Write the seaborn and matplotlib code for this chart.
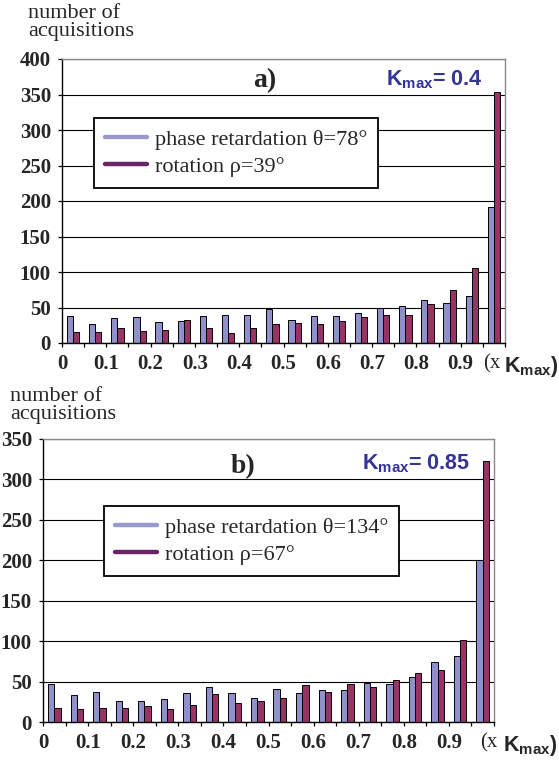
import matplotlib
matplotlib.use("Agg")
import matplotlib.pyplot as plt
import seaborn as sns
import pandas as pd
from matplotlib.lines import Line2D
from matplotlib.font_manager import FontProperties

# ---------------- data ----------------
bins = ["0.00", "0.05", "0.10", "0.15", "0.20", "0.25", "0.30", "0.35", "0.40", "0.45",
        "0.50", "0.55", "0.60", "0.65", "0.70", "0.75", "0.80", "0.85", "0.90", "0.95"]
xtick_labels = ["0", "0.1", "0.2", "0.3", "0.4", "0.5", "0.6", "0.7", "0.8", "0.9"]

a_theta = [38.5, 27, 35, 36.5, 29, 30.5, 38.5, 40, 40, 48,
           32, 38.5, 38.5, 42, 50, 51.5, 61, 56, 66, 192]
a_rho = [16, 16, 21, 17, 19, 32, 21, 14.5, 21, 27,
         28.5, 27, 30.5, 36.5, 40, 40, 55, 74.5, 105.5, 353.5]
b_theta = [47, 33, 37, 26, 26, 28.5, 36, 43, 36, 30,
           41, 36, 39.5, 39.5, 48, 47, 55.5, 74, 81.5, 200]
b_rho = [17, 16, 17, 17, 20, 16, 21, 34.5, 23.5, 26,
         30, 46, 37, 47, 43, 52, 60.5, 64, 101, 323]

a_labels = ["phase retardation θ=78°", "rotation ρ=39°"]
b_labels = ["phase retardation θ=134°", "rotation ρ=67°"]
a_kmax = "K$_\\mathregular{max}$= 0.4"
b_kmax = "K$_\\mathregular{max}$= 0.85"

# ---------------- style ----------------
sns.set_style("white")
plt.rcParams["font.family"] = ["Liberation Serif", "DejaVu Serif"]

BLUE = "#9090cc"
RED = "#993366"
LEG_BLUE = "#9999cc"
LEG_RED = "#6b2466"
KCOL = "#333399"

fig = plt.figure(figsize=(5.59, 7.61), dpi=100)
W, H = 559, 761


def axes_px(left, right, top, bottom):
    return fig.add_axes([left / W, 1 - bottom / H, (right - left) / W, (bottom - top) / H])


def panel(ax, theta, rho, ymax, labels, letter, kmax, leg_xy, letter_xy, k_xy, xk):
    df = pd.DataFrame({
        "bin": bins * 2,
        "count": theta + rho,
        "series": [labels[0]] * len(bins) + [labels[1]] * len(bins),
    })
    sns.barplot(data=df, x="bin", y="count", hue="series", order=bins,
                hue_order=labels, palette=[BLUE, RED], width=0.56,
                saturation=1, edgecolor="black", linewidth=0.7,
                legend=False, ax=ax)
    ax.set_xlim(-0.5, 19.5)
    ax.set_ylim(0, ymax)
    ax.set_yticks(range(0, ymax + 1, 50))
    ax.set_xlabel("")
    ax.set_ylabel("")

    edges = [i - 0.5 for i in range(21)]
    ax.set_xticks(edges)
    lbls = []
    for i in range(21):
        lbls.append(xtick_labels[i // 2] if (i % 2 == 0 and i // 2 < len(xtick_labels)) else "")
    ax.set_xticklabels(lbls)

    ax.yaxis.grid(True, color="black", linewidth=0.8)
    ax.xaxis.grid(False)
    ax.set_axisbelow(True)

    for s in ["left", "bottom"]:
        ax.spines[s].set_color("black")
        ax.spines[s].set_linewidth(1.0)
    for s in ["top", "right"]:
        ax.spines[s].set_color("#888888")
        ax.spines[s].set_linewidth(1.0)

    ax.tick_params(axis="both", which="both", direction="out", length=3,
                   width=0.9, color="black", bottom=True, left=True)
    ax.tick_params(axis="y", pad=5)
    ax.tick_params(axis="x", pad=5)
    for t in ax.get_xticklabels() + ax.get_yticklabels():
        t.set_fontfamily("Liberation Serif")
        t.set_fontweight("bold")
        t.set_fontsize(15)

    handles = [Line2D([], [], color=LEG_BLUE, lw=3.2),
               Line2D([], [], color=LEG_RED, lw=3.2)]
    leg = ax.legend(handles, labels, loc="upper left", bbox_to_anchor=leg_xy,
                    borderaxespad=0, frameon=True, fancybox=False,
                    edgecolor="black", framealpha=1,
                    prop=FontProperties(family="Liberation Serif", size=16),
                    handlelength=1.9, handletextpad=0.35, labelspacing=0.3,
                    borderpad=0.5)
    leg.get_frame().set_linewidth(1.3)

    ax.text(letter_xy[0], letter_xy[1], letter, transform=ax.transAxes,
            ha="center", va="baseline", fontsize=20, fontweight="bold",
            family="Liberation Serif")
    ax.text(k_xy[0], k_xy[1], kmax, transform=ax.transAxes, ha="left",
            va="baseline", fontsize=15.5, fontweight="bold",
            family="Liberation Sans", color=KCOL)

    # x-axis unit label
    ax.annotate("(x", xy=(xk[0], 0), xycoords=("data", "axes fraction"),
                xytext=(0, -8), textcoords="offset points", ha="left", va="top",
                fontsize=15, family="Liberation Serif", annotation_clip=False)
    ax.annotate("K$_\\mathregular{max}$)", xy=(xk[1], 0),
                xycoords=("data", "axes fraction"),
                xytext=(0, -8), textcoords="offset points", ha="left", va="top",
                fontsize=15.5, fontweight="bold", family="Liberation Sans",
                annotation_clip=False)


ax1 = axes_px(62, 505, 59, 343)
panel(ax1, a_theta, a_rho, 400, a_labels, "a)", a_kmax,
      leg_xy=(0.072, 0.792), letter_xy=(0.458, 0.901), k_xy=(0.731, 0.908),
      xk=(18.5, 19.45))

ax2 = axes_px(43, 494, 439, 722)
panel(ax2, b_theta, b_rho, 350, b_labels, "b)", b_kmax,
      leg_xy=(0.135, 0.763), letter_xy=(0.443, 0.88), k_xy=(0.707, 0.894),
      xk=(18.88, 19.9))

fig.text(28 / W, 1 - 4 / H, "number of\nacquisitions", ha="left", va="top",
         fontsize=16, family="Liberation Serif", linespacing=0.95)
fig.text(10 / W, 1 - 387 / H, "number of\nacquisitions", ha="left", va="top",
         fontsize=16, family="Liberation Serif", linespacing=0.95)

fig.savefig("out.png", dpi=100, facecolor="white")
